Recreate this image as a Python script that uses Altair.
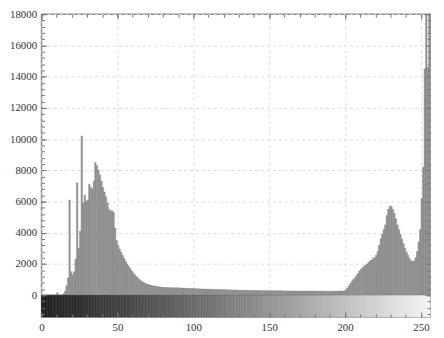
import altair as alt
import pandas as pd

# histogram counts for grey levels 0..255
counts = [
    0, 0, 0, 0, 0, 0, 0, 0, 0, 0,            # 0-9
    150, 0, 0, 0, 80, 250, 600, 1100, 6100, 1500,   # 10-19
    1300, 1500, 2300, 7200, 3000, 4100, 10200, 5900, 6400, 6000,  # 20-29
    6100, 7100, 6900, 6800, 7300, 8500, 8300, 8000, 7700, 7300,   # 30-39
    6900, 6600, 6300, 5900, 5500, 5400, 5400, 5300, 4300, 3500,   # 40-49
    3200, 2950, 2750, 2550, 2350, 2150, 2000, 1850, 1700, 1550,   # 50-59
    1420, 1300, 1200, 1100, 1000, 920, 860, 800, 750, 710,        # 60-69
    680, 650, 620, 600, 580, 560, 550, 535, 520, 505,             # 70-79
    495, 490, 485, 480, 478, 475, 472, 470, 468, 470,             # 80-89
    470, 460, 455, 450, 445, 440, 435, 430, 425, 422,             # 90-99
    420, 415, 410, 405, 400, 395, 392, 388, 385, 382,             # 100-109
    380, 376, 372, 368, 365, 362, 358, 355, 352, 350,             # 110-119
    350, 346, 342, 338, 335, 332, 328, 325, 322, 320,             # 120-129
    320, 316, 312, 310, 306, 304, 302, 300, 298, 296,             # 130-139
    295, 293, 291, 290, 288, 287, 285, 284, 282, 281,             # 140-149
    280, 279, 278, 277, 276, 275, 274, 273, 272, 271,             # 150-159
    270, 270, 269, 268, 268, 267, 266, 266, 265, 264,             # 160-169
    264, 263, 262, 262, 261, 260, 260, 259, 258, 258,             # 170-179
    257, 256, 256, 255, 255, 254, 254, 253, 253, 252,             # 180-189
    252, 252, 253, 254, 255, 256, 258, 260, 265, 280,             # 190-199
    330, 450, 600, 750, 880, 1000, 1100, 1250, 1400, 1550,        # 200-209
    1650, 1750, 1850, 1920, 2000, 2100, 2200, 2250, 2350, 2400,   # 210-219
    2550, 2800, 3200, 3600, 3900, 4200, 4500, 5100, 5500, 5700,   # 220-229
    5700, 5500, 5250, 4900, 4500, 4200, 3900, 3600, 3300, 3000,   # 230-239
    2750, 2550, 2350, 2200, 2150, 2200, 2400, 2800, 3400, 4200,   # 240-249
    6200, 8200, 14500, 20000, 14600, 20000,                       # 250-255
]
levels = list(range(256))
x_major = [0, 50, 100, 150, 200, 250]
x_minor = list(range(0, 256, 10))
y_major = list(range(0, 18001, 2000))
y_minor = list(range(-1200, 18001, 400))
y_bottom = -1400
y_top = 18000

df = pd.DataFrame({
    "v": levels,
    "v2": [v + 1 for v in levels],
    "count": counts,
    "lo": [y_bottom] * len(levels),
    "zero": [0] * len(levels),
})

FONT = "Liberation Serif, Times New Roman, serif"
XS = alt.Scale(domain=[0, 256], nice=False, zero=False, padding=0)
YS = alt.Scale(domain=[y_bottom, y_top], nice=False, zero=False, padding=0)
GRAY = alt.Scale(domain=[0, 255], range=["#1e1e1e", "#f4f4f4"])
TICK = "#777777"


def tick_axis(orient, values, size):
    return alt.Axis(orient=orient, values=values, offset=-size, tickSize=size,
                    tickColor=TICK, tickWidth=1, labels=False, domain=False,
                    grid=False, title=None, zindex=2)


def label_axis(orient, values):
    return alt.Axis(orient=orient, values=values, ticks=False, tickSize=0,
                    domain=False, grid=True, gridDash=[3, 3], gridColor="#dcdcdc",
                    labelFont=FONT, labelFontSize=11, labelColor="#333333",
                    labelPadding=5, title=None, format="d", labelFlush=False)


gradient = alt.Chart(df).mark_rect(strokeWidth=0.6).encode(
    x=alt.X("v:Q", scale=XS, axis=label_axis("bottom", x_major)),
    x2="v2:Q",
    y=alt.Y("lo:Q", scale=YS, axis=label_axis("left", y_major)),
    y2="zero:Q",
    fill=alt.Fill("v:Q", scale=GRAY, legend=None),
    stroke=alt.Stroke("v:Q", scale=GRAY, legend=None),
)

bars = alt.Chart(df).mark_rect(fill="#9c9c9c", stroke="#606060", strokeWidth=0.3,
                               clip=True).encode(
    x=alt.X("v:Q", scale=XS, axis=tick_axis("top", x_major, 5)),
    x2="v2:Q",
    y=alt.Y("count:Q", scale=YS, axis=tick_axis("left", y_major, 5)),
    y2="zero:Q",
)

minor1 = alt.Chart(df).mark_rect(opacity=0).encode(
    x=alt.X("v:Q", scale=XS, axis=tick_axis("top", x_minor, 3)),
    x2="v2:Q",
    y=alt.Y("zero:Q", scale=YS, axis=tick_axis("left", y_minor, 3)),
)

right1 = alt.Chart(df).mark_rect(opacity=0).encode(
    x=alt.X("v:Q", scale=XS, axis=tick_axis("bottom", x_minor, 3)),
    x2="v2:Q",
    y=alt.Y("zero:Q", scale=YS, axis=tick_axis("right", y_major, 5)),
)

right2 = alt.Chart(df).mark_rect(opacity=0).encode(
    x=alt.X("v:Q", scale=XS, axis=tick_axis("bottom", x_major, 5)),
    x2="v2:Q",
    y=alt.Y("zero:Q", scale=YS, axis=tick_axis("right", y_minor, 3)),
)

chart = alt.layer(gradient, bars, minor1, right1, right2).resolve_axis(
    x="independent", y="independent"
).properties(
    width=394, height=307,
    autosize=alt.AutoSizeParams(type="none"),
    padding={"left": 34, "top": 4, "right": 6, "bottom": 17},
).configure_view(stroke="#888888", strokeWidth=1.5)

chart.save("out.html", embed_options={"renderer": "svg", "actions": False})
